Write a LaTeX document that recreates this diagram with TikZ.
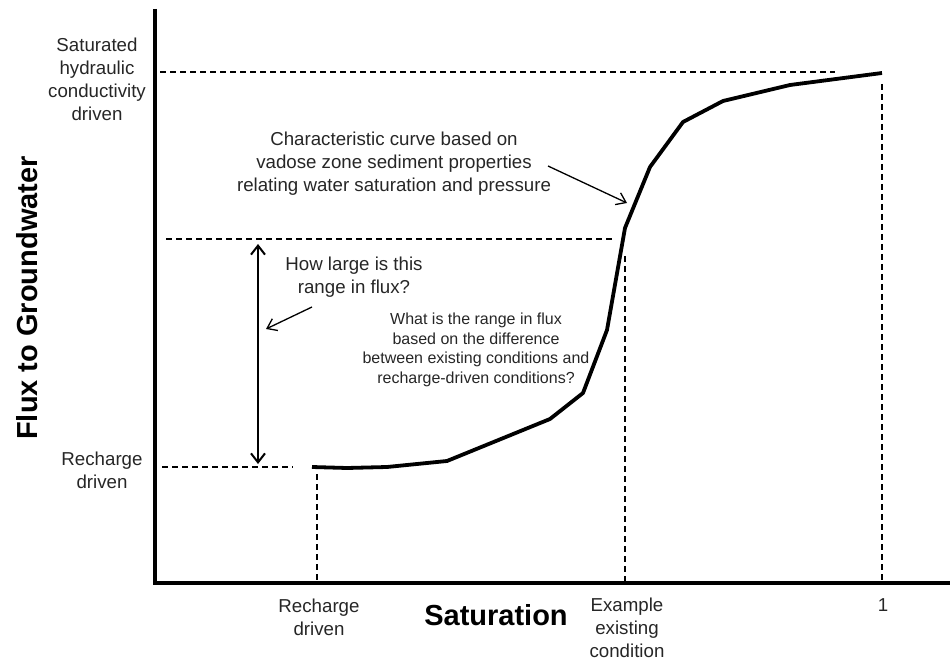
\documentclass[tikz,border=0pt]{standalone}
\usepackage{fontspec}
\setmainfont{Liberation Sans}
\usetikzlibrary{arrows.meta}
\begin{document}
\begin{tikzpicture}[x=1pt,y=-1pt,
  lbl/.style={align=center,inner sep=0pt,text=black!85,font=\fontsize{18.7}{23}\selectfont},
  smalllbl/.style={align=center,inner sep=0pt,text=black!85,font=\fontsize{16}{19.5}\selectfont},
  axtitle/.style={inner sep=0pt,font=\fontsize{29}{33}\selectfont\bfseries},
  axisline/.style={line width=3.6pt},
  guide/.style={line width=1.2pt,dash pattern=on 6pt off 4pt},
  curveline/.style={line width=3.8pt,line join=round},
  pointer/.style={line width=1.3pt,-{Straight Barb[length=9pt,width=13pt,line width=1.3pt]}},
  twoway/.style={line width=2pt,{Straight Barb[length=9pt,width=14pt,line width=2pt]}-{Straight Barb[length=9pt,width=14pt,line width=2pt]}}
]
\useasboundingbox (0,0) rectangle (950,660);

% axes
\coordinate (yt) at (155,9);
\coordinate (o) at (155,583);
\coordinate (xr) at (950,583);
\draw[axisline] (yt) -- (o) -- (xr);

% guide lines
\coordinate (h1a) at (160,72);  \coordinate (h1b) at (835,72);
\coordinate (h2a) at (166,239); \coordinate (h2b) at (612,239);
\coordinate (h3a) at (162,467); \coordinate (h3b) at (293,467);
\coordinate (v1a) at (317,474); \coordinate (v1b) at (317,581);
\coordinate (v2a) at (625,256); \coordinate (v2b) at (625,581);
\coordinate (v3a) at (882,84);  \coordinate (v3b) at (882,581);
\draw[guide] (h1a) -- (h1b);
\draw[guide] (h2a) -- (h2b);
\draw[guide] (h3a) -- (h3b);
\draw[guide] (v1a) -- (v1b);
\draw[guide] (v2a) -- (v2b);
\draw[guide] (v3a) -- (v3b);

% characteristic curve
\coordinate (c0) at (312,467);
\coordinate (c1) at (347,468);
\coordinate (c2) at (387,467);
\coordinate (c3) at (447,461);
\coordinate (c4) at (550,419);
\coordinate (c5) at (583,393);
\coordinate (c6) at (607,330);
\coordinate (c7) at (625,228);
\coordinate (c8) at (650,167);
\coordinate (c9) at (683,122);
\coordinate (c10) at (723,101);
\coordinate (c11) at (790,85);
\coordinate (c12) at (882,73);
\draw[curveline] (c0) -- (c1) -- (c2) -- (c3) -- (c4) -- (c5) -- (c6) -- (c7) -- (c8) -- (c9) -- (c10) -- (c11) -- (c12);

% labels
\node[lbl] (satlbl) at (97,79) {Saturated\\hydraulic\\conductivity\\driven};
\node[lbl] (rechlbl) at (102,470) {Recharge\\driven};
\node[lbl] (charlbl) at (394,164) {Characteristic curve based on\\vadose zone sediment properties\\relating water saturation and pressure};
\node[lbl] (howlbl) at (354,277) {How large is this\\range in flux?};
\node[smalllbl] (whatlbl) at (476,350) {What is the range in flux\\based on the difference\\between existing conditions and\\recharge-driven conditions?};
\node[lbl] (xrech) at (319,617) {Recharge\\driven};
\node[lbl] (xex) at (627,628) {Example\\existing\\condition};
\node[lbl] (xone) at (883,605) {1};
\node[axtitle] (xtitle) at (496,615) {Saturation};
\node[axtitle,rotate=90] (ytitle) at (27,298) {Flux to Groundwater};

% arrows
\coordinate (ca) at (548,166);
\coordinate (cb) at (627,203);
\draw[pointer] (ca) -- (cb);
\coordinate (ha) at (312,307);
\coordinate (hb) at (266,329);
\draw[pointer] (ha) -- (hb);
\coordinate (ra) at (258,244);
\coordinate (rb) at (258,464);
\draw[twoway] (ra) -- (rb);
\end{tikzpicture}
\end{document}
